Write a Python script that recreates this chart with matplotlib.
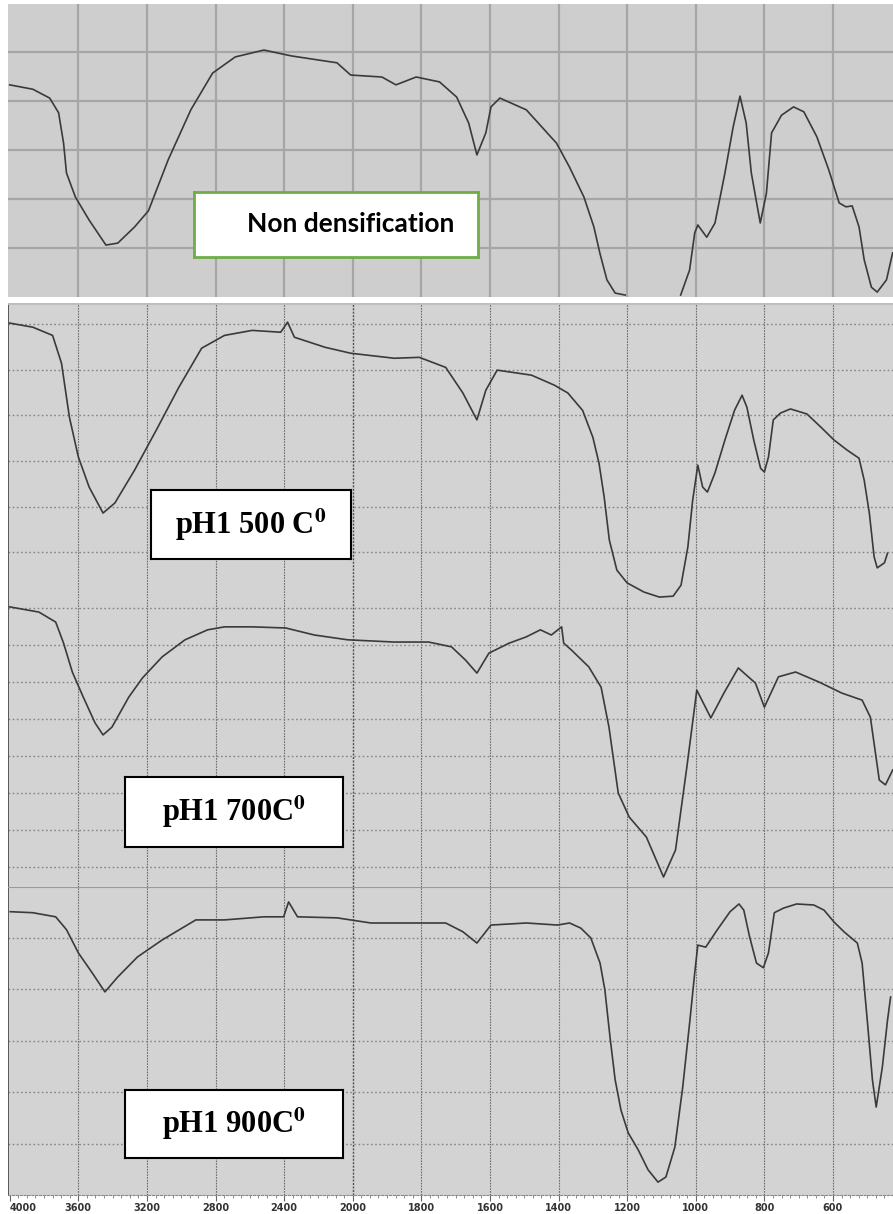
import numpy as np
import matplotlib
matplotlib.use("Agg")
import matplotlib.pyplot as plt

# ---------------- data (wavenumber cm-1, transmittance in panel units) ----------------
wn_nd = [4000, 3865, 3767, 3715, 3686, 3669, 3617, 3537, 3439, 3370, 3272, 3191, 3076, 2944,
         2817, 2685, 2518, 2357, 2092, 2012, 1915, 1874, 1815, 1747, 1697, 1662, 1638, 1612,
         1597, 1571, 1494, 1406, 1368, 1326, 1297, 1279, 1259, 1235, 1206, 1130, 1044, 1018,
         1003, 994, 968, 944, 915, 891, 871, 853, 838, 812, 794, 779, 750, 715, 685, 647,
         612, 582, 562, 544, 524, 509, 488, 471, 444, 426]
t_nd = [43.3, 42.4, 40.6, 37.6, 31.4, 25.3, 20.4, 15.7, 10.6, 11.0, 14.3, 17.6, 28.0, 38.2,
        45.7, 49.0, 50.4, 49.2, 47.8, 45.3, 44.9, 43.3, 44.9, 43.9, 40.8, 35.5, 29.0, 33.5,
        38.8, 40.6, 38.2, 31.4, 26.5, 20.4, 14.3, 8.8, 3.5, 0.8, 0.4, np.nan, 0.4, 5.5,
        13.1, 14.7, 12.2, 15.1, 25.3, 34.7, 41.0, 35.5, 25.3, 15.1, 21.2, 33.5, 37.1, 38.8,
        37.8, 32.7, 25.9, 19.2, 18.4, 18.6, 14.3, 7.6, 2.0, 1.0, 3.5, 9.0]

wn_500 = [4000, 3865, 3750, 3698, 3652, 3600, 3537, 3456, 3387, 3272, 3145, 3013, 2881, 2748,
          2587, 2420, 2380, 2340, 2161, 2012, 1879, 1806, 1729, 1679, 1638, 1612, 1579, 1479,
          1412, 1373, 1330, 1300, 1282, 1267, 1252, 1230, 1200, 1151, 1106, 1066, 1043, 1023,
          1009, 994, 980, 966, 944, 915, 887, 865, 851, 831, 811, 800, 788, 774, 753, 724,
          676, 635, 597, 559, 524, 509, 494, 480, 471, 450, 441]
t_500 = [60.2, 59.3, 57.5, 51.4, 39.6, 30.9, 24.3, 18.6, 20.8, 28.0, 36.8, 46.2, 54.7, 57.5,
         58.6, 58.2, 60.4, 57.1, 54.9, 53.6, 52.5, 52.7, 50.5, 44.9, 39.0, 45.5, 49.9, 48.8,
         46.6, 44.9, 41.1, 35.2, 29.5, 22.1, 12.7, 6.1, 3.3, 1.3, 0.2, 0.4, 2.8, 11.2,
         21.4, 29.1, 24.3, 23.2, 27.4, 34.6, 41.1, 44.4, 41.8, 34.6, 28.4, 27.6, 30.9, 39.0,
         40.5, 41.4, 40.3, 37.4, 34.6, 32.4, 30.6, 25.8, 18.6, 9.0, 6.6, 7.7, 9.8]

wn_700 = [4000, 3830, 3732, 3686, 3635, 3571, 3502, 3456, 3404, 3306, 3226, 3111, 2978, 2846,
          2748, 2587, 2391, 2224, 2029, 1879, 1779, 1712, 1671, 1638, 1603, 1544, 1494, 1453,
          1421, 1391, 1385, 1362, 1312, 1276, 1253, 1226, 1194, 1144, 1094, 1059, 1026, 997,
          956, 918, 876, 826, 800, 759, 709, 641, 574, 515, 491, 465, 447, 426]
t_700 = [70.3, 68.9, 66.2, 60.5, 52.7, 45.9, 38.9, 35.7, 37.8, 45.9, 51.1, 56.8, 61.4, 64.1,
         64.9, 64.9, 64.6, 62.7, 61.4, 60.8, 60.8, 59.5, 55.9, 52.4, 57.8, 60.5, 62.2, 64.1,
         62.7, 64.9, 60.5, 58.6, 54.1, 48.6, 37.8, 20.0, 13.5, 8.1, -2.7, 4.6, 27.0, 47.8,
         40.3, 47.0, 53.8, 49.7, 43.2, 51.4, 52.7, 50.0, 47.0, 45.1, 40.5, 23.5, 22.2, 26.2]

wn_900 = [3997, 3865, 3732, 3669, 3600, 3519, 3445, 3370, 3255, 3111, 2915, 2748, 2518, 2403,
          2374, 2322, 2092, 1947, 1847, 1729, 1679, 1638, 1597, 1494, 1403, 1368, 1335, 1306,
          1279, 1265, 1250, 1235, 1218, 1197, 1168, 1139, 1110, 1087, 1061, 1038, 1017, 1003,
          994, 971, 937, 900, 874, 860, 843, 823, 803, 788, 771, 744, 706, 656, 626, 597,
          568, 529, 515, 500, 485, 474, 456, 441, 432]
t_900 = [55.1, 54.9, 54.1, 51.6, 47.1, 43.2, 39.5, 42.4, 46.3, 49.6, 53.5, 53.5, 54.1, 54.1,
         57.0, 54.1, 53.9, 52.9, 52.9, 52.9, 51.2, 49.0, 52.5, 52.9, 52.5, 52.9, 51.9, 50.0,
         45.1, 39.9, 30.7, 22.4, 16.5, 12.1, 8.8, 4.9, 2.5, 3.5, 9.3, 21.0, 34.0, 43.2,
         48.6, 48.2, 51.6, 55.1, 56.6, 55.4, 50.2, 45.1, 44.2, 47.1, 54.9, 55.8, 56.6, 56.4,
         55.4, 53.1, 51.2, 49.0, 45.1, 34.0, 22.4, 17.1, 24.9, 34.0, 38.5]

labels = ["Non densification", "pH1 500 C$^{\\mathbf{0}}$", "pH1 700C$^{\\mathbf{0}}$",
          "pH1 900C$^{\\mathbf{0}}$"]
major_ticks = [4000, 3600, 3200, 2800, 2400, 2000, 1800, 1600, 1400, 1200, 1000, 800, 600]
tick_labels = ["4000", "3600", "3200", "2800", "2400", "2000", "1800", "1600", "1400",
               "1200", "1000", "800", "600"]

# ---------------- helpers ----------------
W, H = 893, 1214
plt.rcParams['mathtext.fontset'] = 'stix'


def fwd(w):
    w = np.asarray(w, dtype=float)
    return np.where(w >= 2000, w / 2.0, w - 1000.0)


def inv(u):
    u = np.asarray(u, dtype=float)
    return np.where(u >= 1000, u * 2.0, u + 1000.0)


def box(y_top, y_bot, x0=8, x1=893):
    return [x0 / W, 1 - y_bot / H, (x1 - x0) / W, (y_bot - y_top) / H]


fig = plt.figure(figsize=(W / 100, H / 100), dpi=100)
fig.patch.set_facecolor('white')

panels = [
    dict(rect=box(4, 297), ylim=(0, 59.8), hy=[10, 20, 30, 40, 50], wn=wn_nd, t=t_nd,
         style='solid', bg='#cecece'),
    dict(rect=box(303, 598), ylim=(0, 64.6), hy=[10, 20, 30, 40, 50, 60], wn=wn_500, t=t_500,
         style='dotted', bg='#d3d3d3'),
    dict(rect=box(598, 887), ylim=(-5.4, 72.7), hy=[0, 10, 20, 30, 40, 50, 60, 70], wn=wn_700,
         t=t_700, style='dotted', bg='#d3d3d3'),
    dict(rect=box(887, 1195), ylim=(0, 59.9), hy=[10, 20, 30, 40, 50], wn=wn_900, t=t_900,
         style='dotted', bg='#d3d3d3'),
]

axes = []
for i, p in enumerate(panels):
    ax = fig.add_axes(p['rect'])
    ax.set_facecolor(p['bg'])
    ax.set_xscale('function', functions=(fwd, inv))
    ax.set_xlim(4010, 425)
    ax.set_ylim(*p['ylim'])
    for s in ax.spines.values():
        s.set_visible(False)
    ax.set_yticks([])
    ax.set_xticks(major_ticks)
    ax.tick_params(axis='x', length=0, labelbottom=False)
    if p['style'] == 'solid':
        for w in major_ticks[1:]:
            ax.axvline(w, color='#a6a6a6', lw=1.6, zorder=1)
        for y in p['hy']:
            ax.axhline(y, color='#a6a6a6', lw=1.6, zorder=1)
    else:
        for w in major_ticks[1:]:
            c = '#505050' if w == 2000 else '#6e6e6e'
            ax.axvline(w, color=c, lw=1.0 if w == 2000 else 0.8,
                       ls=(0, (1.5, 1.0)), zorder=1)
        for y in p['hy']:
            ax.axhline(y, color='#858585', lw=1.0, ls=(0, (1.2, 1.8)), zorder=1)
        ax.axvline(4010, color='#444444', lw=1.2, zorder=1)
    ax.plot(p['wn'], p['t'], color='#3a3a3a', lw=1.2, zorder=3)
    axes.append(ax)

axes[1].axhline(64.6, color='#bdbdbd', lw=2.0, zorder=2)
axes[3].axhline(59.9, color='#9a9a9a', lw=1.5, zorder=2)

# bottom axis
ax4 = axes[3]
ax4.spines['bottom'].set_visible(True)
ax4.spines['bottom'].set_color('#8a8a8a')
ax4.spines['bottom'].set_linestyle((0, (2, 1.5)))
ax4.set_xticks(major_ticks)
ax4.set_xticklabels(tick_labels)
minor = list(range(3950, 2000, -50)) + list(range(1975, 425, -25))
ax4.set_xticks([m for m in minor if m not in major_ticks], minor=True)
ax4.tick_params(axis='x', which='major', length=4, width=0.8, color='#666666',
                labelbottom=True, labelsize=7, labelcolor='#333333', pad=2)
ax4.tick_params(axis='x', which='minor', length=2.5, width=0.6, color='#7a7a7a')
for k, t in enumerate(ax4.get_xticklabels()):
    t.set_fontweight('bold')
    if k == 0:
        t.set_horizontalalignment('left')


def label_box(x0, y0, x1, y1, text, edge, lw, fontkw, tx=0.5):
    bx = fig.add_axes([x0 / W, 1 - y1 / H, (x1 - x0) / W, (y1 - y0) / H])
    bx.set_xticks([]); bx.set_yticks([])
    bx.set_facecolor('white')
    for s in bx.spines.values():
        s.set_color(edge)
        s.set_linewidth(lw)
    bx.text(tx, 0.5, text, ha='center', va='center', transform=bx.transAxes, **fontkw)
    return bx


label_box(194, 192, 478, 257, labels[0], '#70ad47', 2.0,
          dict(fontsize=19, fontweight='bold', family=['Lato', 'DejaVu Sans'], color='black'),
          tx=0.55)
serif = dict(fontsize=22, fontweight='bold', family=['Liberation Serif', 'DejaVu Serif'],
             color='black')
label_box(151, 490, 351, 559, labels[1], 'black', 1.5, serif)
label_box(125, 777, 343, 847, labels[2], 'black', 1.5, serif)
label_box(125, 1090, 343, 1158, labels[3], 'black', 1.5, serif)

fig.savefig('out.png', dpi=100, facecolor='white')
